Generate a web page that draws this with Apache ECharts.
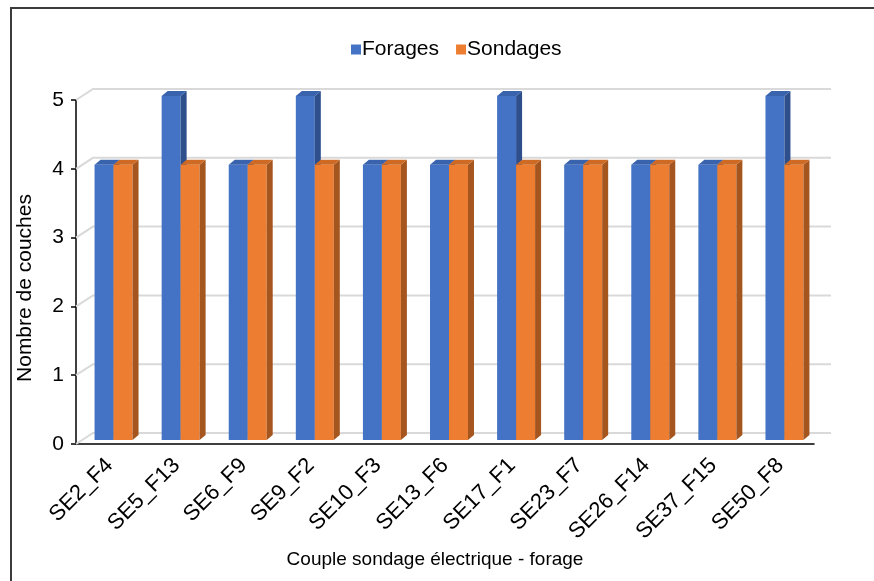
<!DOCTYPE html>
<html>
<head>
<meta charset="utf-8">
<script src="https://cdn.jsdelivr.net/npm/echarts@6/dist/echarts.min.js"></script>
<style>
  html, body { margin: 0; padding: 0; background: #fff; }
  #main { width: 874px; height: 581px; }
</style>
</head>
<body>
<div id="main"></div>
<script>
  // données du graphique
  var categories = ['SE2_F4', 'SE5_F13', 'SE6_F9', 'SE9_F2', 'SE10_F3', 'SE13_F6',
    'SE17_F1', 'SE23_F7', 'SE26_F14', 'SE37_F15', 'SE50_F8'];
  var forages = [4, 5, 4, 5, 4, 4, 5, 4, 4, 4, 5];
  var sondages = [4, 4, 4, 4, 4, 4, 4, 4, 4, 4, 4];
  var yTicks = [0, 1, 2, 3, 4, 5];

  var font = '"Liberation Sans", Arial, sans-serif';

  // barre 3D : face avant + côté + dessus
  function bar3d(side, front, dark, top) {
    return function (params, api) {
      var c = api.coord([api.value(0), api.value(1)]);
      var base = api.coord([api.value(0), 0]);
      var w = api.size([1, 0])[0] * 0.283;
      var x0 = c[0] + 4 + (side === 0 ? -w : 0);
      var x1 = x0 + w;
      var yT = c[1] - 4, yB = base[1] - 4;
      var dx = 6, dy = 5;
      return {
        type: 'group',
        children: [
          { type: 'rect', shape: { x: x0, y: yT, width: w, height: yB - yT }, style: { fill: front } },
          { type: 'polygon', shape: { points: [[x1, yT], [x1 + dx, yT - dy], [x1 + dx, yB - dy], [x1, yB]] }, style: { fill: dark } },
          { type: 'polygon', shape: { points: [[x0, yT], [x0 + dx, yT - dy], [x1 + dx, yT - dy], [x1, yT]] }, style: { fill: top } }
        ]
      };
    };
  }

  var myChart = echarts.init(document.getElementById('main'));
  var option = {
    backgroundColor: '#fff',
    graphic: [{
      type: 'rect',
      shape: { x: 11, y: 8, width: 880, height: 620 },
      style: { fill: 'none', stroke: '#3c3c3c', lineWidth: 2 },
      silent: true
    }],
    legend: {
      data: ['Forages', 'Sondages'],
      left: 346,
      top: 34,
      icon: 'rect',
      itemWidth: 10,
      itemHeight: 10,
      itemGap: 17,
      textStyle: { fontSize: 21, color: '#000', fontFamily: font, padding: [0, 0, 0, -4] }
    },
    grid: { left: 76, right: 60, top: 100, bottom: 137 },
    xAxis: {
      type: 'category',
      data: categories,
      name: 'Couple sondage électrique - forage',
      nameLocation: 'middle',
      nameGap: 104,
      nameTextStyle: { fontSize: 19, color: '#000', fontFamily: font, padding: [0, 20, 0, 0] },
      axisLine: { lineStyle: { color: '#000', width: 1.5 } },
      axisTick: { length: 6, lineStyle: { color: '#000', width: 1.5 } },
      axisLabel: { interval: 0, rotate: 45, fontSize: 22, color: '#000', fontFamily: font, margin: 18 }
    },
    yAxis: {
      type: 'value',
      min: 0,
      max: 5,
      interval: 1,
      name: 'Nombre de couches',
      nameLocation: 'middle',
      nameGap: 40,
      nameTextStyle: { fontSize: 21, color: '#000', fontFamily: font, padding: [0, 32, 0, 0] },
      axisLine: { show: true, lineStyle: { color: '#000', width: 1.5 } },
      axisTick: { show: true, length: 5, lineStyle: { color: '#000', width: 1.5 } },
      axisLabel: { fontSize: 21, color: '#000', fontFamily: font, margin: 12 },
      splitLine: { show: false }
    },
    series: [
      {
        name: 'grille',
        type: 'custom',
        silent: true,
        z: 1,
        data: yTicks.map(function (v) { return [0, v]; }),
        encode: { x: 0, y: 1 },
        renderItem: function (params, api) {
          var cs = params.coordSys;
          var y = api.coord([0, api.value(1)])[1];
          var dx = 17, dy = 11;
          return {
            type: 'polyline',
            shape: { points: [[cs.x, y], [cs.x + dx, y - dy], [cs.x + cs.width + dx, y - dy]] },
            style: { stroke: '#d9d9d9', lineWidth: 2, fill: 'none' }
          };
        }
      },
      {
        name: 'Forages',
        type: 'custom',
        z: 2,
        itemStyle: { color: '#4472C4' },
        data: forages.map(function (v, i) { return [i, v]; }),
        encode: { x: 0, y: 1 },
        renderItem: bar3d(0, '#4472C4', '#2E4F8C', '#3A63AD')
      },
      {
        name: 'Sondages',
        type: 'custom',
        z: 2,
        itemStyle: { color: '#ED7D31' },
        data: sondages.map(function (v, i) { return [i, v]; }),
        encode: { x: 0, y: 1 },
        renderItem: bar3d(1, '#ED7D31', '#A5561F', '#CF6A25')
      }
    ]
  };
  myChart.setOption(option);
  window.addEventListener('resize', function () { myChart.resize(); });
</script>
</body>
</html>
